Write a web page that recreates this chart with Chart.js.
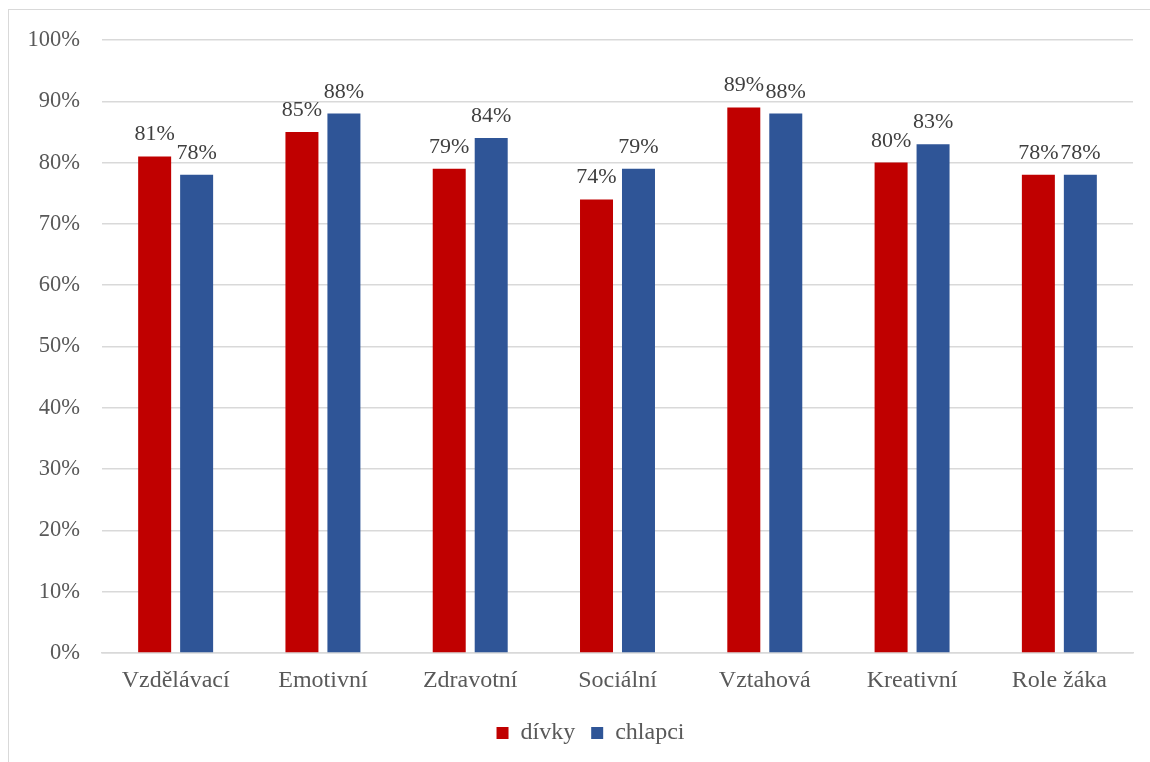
<!DOCTYPE html>
<html>
<head>
<meta charset="utf-8">
<script src="https://cdn.jsdelivr.net/npm/chart.js@4/dist/chart.umd.min.js"></script>
<style>
    html, body { margin: 0; padding: 0; background: #fff; overflow: hidden; }
    #wrap { position: relative; width: 1150px; height: 762px; }
    #frame { position: absolute; left: 8px; top: 9px; width: 1200px; height: 800px; border: 1.5px solid #d9d9d9; box-sizing: border-box; }
    canvas { position: absolute; left: 0; top: 0; }
</style>
</head>
<body>
<div id="wrap">
    <div id="frame"></div>
    <canvas id="c" width="1150" height="762"></canvas>
</div>
<script>
const categories = ['Vzdělávací', 'Emotivní', 'Zdravotní', 'Sociální', 'Vztahová', 'Kreativní', 'Role žáka']
const divky = [81, 85, 79, 74, 89, 80, 78]
const chlapci = [78, 88, 84, 79, 88, 83, 78]
const yTicks = [0, 10, 20, 30, 40, 50, 60, 70, 80, 90, 100]

const font = 'Liberation Serif, Times New Roman, serif'
const axisText = '#595959'
const gridColor = '#d9d9d9'

// labels above each bar, like excel's "outside end"
const barLabels = {
    id: 'barLabels',
    afterDatasetsDraw(chart) {
        const ctx = chart.ctx
        ctx.save()
        ctx.font = '22px ' + font
        ctx.fillStyle = '#404040'
        ctx.textAlign = 'center'
        ctx.textBaseline = 'alphabetic'
        chart.data.datasets.forEach((ds, i) => {
            chart.getDatasetMeta(i).data.forEach((bar, j) => {
                ctx.fillText(ds.data[j] + '%', bar.x, bar.y - 16)
            })
        })
        ctx.restore()
    }
}

// excel centres the legend a bit further right than chart.js does
const legendShift = {
    id: 'legendShift',
    afterLayout(chart) {
        if (chart.legend) chart.legend.left = 48
    }
}

new Chart(document.getElementById('c').getContext('2d'), {
    type: 'bar',
    data: {
        labels: categories,
        datasets: [
            { label: 'dívky', data: divky, backgroundColor: '#c00000' },
            { label: 'chlapci', data: chlapci, backgroundColor: '#2f5597' }
        ]
    },
    options: {
        responsive: false,
        animation: false,
        devicePixelRatio: 1,
        categoryPercentage: 0.57,
        barPercentage: 0.786,
        layout: { padding: { top: 40, right: 17, left: 0, bottom: 7 } },
        plugins: {
            legend: {
                position: 'bottom',
                labels: {
                    color: axisText,
                    font: { family: font, size: 24 },
                    boxWidth: 12,
                    boxHeight: 12,
                    padding: 16
                }
            },
            tooltip: { enabled: false }
        },
        scales: {
            y: {
                min: 0,
                max: 100,
                afterFit(scale) { scale.width = 102 },
                afterBuildTicks(scale) { scale.ticks = yTicks.map(v => ({ value: v })) },
                ticks: {
                    color: axisText,
                    font: { family: font, size: 22.5 },
                    padding: 22,
                    callback: v => v + '%'
                },
                grid: { color: gridColor, lineWidth: 1.5, drawTicks: false },
                border: { display: false }
            },
            x: {
                afterFit(scale) { scale.height = 52 },
                ticks: {
                    color: axisText,
                    font: { family: font, size: 24 },
                    padding: 13
                },
                grid: { display: false, drawTicks: false },
                border: { color: gridColor, width: 1.5 }
            }
        }
    },
    plugins: [barLabels, legendShift]
})
</script>
</body>
</html>
